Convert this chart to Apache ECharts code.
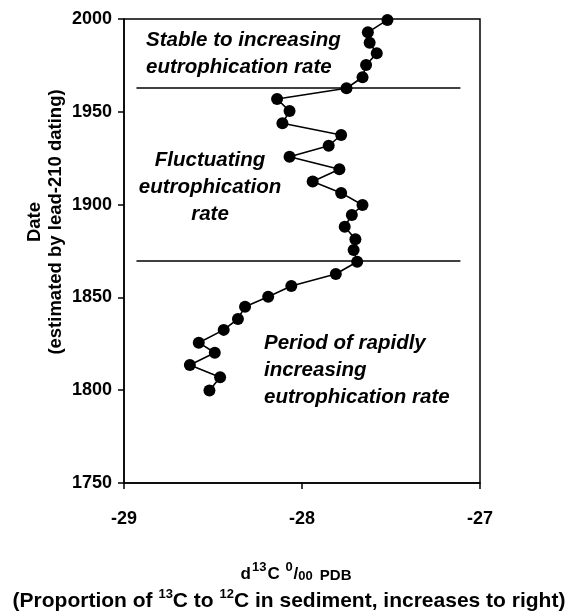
<!DOCTYPE html>
<html>
<head>
<meta charset="utf-8">
<script src="https://cdn.jsdelivr.net/npm/echarts@6/dist/echarts.min.js"></script>
<style>html,body{margin:0;padding:0;background:#fff;}#c{width:575px;height:613px;}</style>
</head>
<body>
<div id="c"></div>
<script>
// ---- data ----
const years = [1999.5, 1992.8, 1987.2, 1981.5, 1975.2, 1968.6, 1962.7, 1956.9, 1950.4, 1943.8, 1937.5, 1931.7, 1925.8, 1919.0, 1912.5, 1906.3, 1899.8, 1894.4, 1888.1, 1881.3, 1875.5, 1869.2, 1862.6, 1856.1, 1850.4, 1845.0, 1838.4, 1832.5, 1825.6, 1820.2, 1813.6, 1807.0, 1799.8];
const d13C = [-27.52, -27.63, -27.62, -27.58, -27.64, -27.66, -27.75, -28.14, -28.07, -28.11, -27.78, -27.85, -28.07, -27.79, -27.94, -27.78, -27.66, -27.72, -27.76, -27.70, -27.71, -27.69, -27.81, -28.06, -28.19, -28.32, -28.36, -28.44, -28.58, -28.49, -28.63, -28.46, -28.52];
const boundaryYears = [1963, 1869.5];
const boundaryXRange = [-28.93, -27.11];
const yTickLabels = [1750, 1800, 1850, 1900, 1950, 2000];
const xTickLabels = [-29, -28, -27];
const annotStable = ['Stable to increasing', 'eutrophication rate'];
const annotFluct = ['Fluctuating', 'eutrophication', 'rate'];
const annotRapid = ['Period of rapidly', 'increasing', 'eutrophication rate'];

const FONT = '"Liberation Sans", Arial, sans-serif';
const chart = echarts.init(document.getElementById('c'));
const pts = d13C.map((v, i) => [v, years[i]]);
const markLines = boundaryYears.map(y => [{coord: [boundaryXRange[0], y]}, {coord: [boundaryXRange[1], y]}]);

const annStyle = {fill: '#000', font: 'italic bold 20.5px ' + FONT, lineHeight: 27};

chart.setOption({
  animation: false,
  grid: {left: 124, right: 95, top: 19, bottom: 130, show: true, borderColor: '#000', borderWidth: 1.5, backgroundColor: 'transparent'},
  xAxis: {
    type: 'value', min: -29, max: -27, interval: 1,
    axisLine: {show: true, lineStyle: {color: '#000', width: 1.5}},
    axisTick: {show: true, length: 6, lineStyle: {color: '#000', width: 1.5}},
    splitLine: {show: false},
    axisLabel: {margin: 27, color: '#000', fontFamily: FONT, fontWeight: 'bold', fontSize: 18,
      formatter: v => xTickLabels.includes(v) ? String(v) : ''}
  },
  yAxis: {
    type: 'value', min: 1750, max: 2000, interval: 50,
    axisLine: {show: true, lineStyle: {color: '#000', width: 1.5}},
    axisTick: {show: true, length: 6, lineStyle: {color: '#000', width: 1.5}},
    splitLine: {show: false},
    axisLabel: {margin: 12, color: '#000', fontFamily: FONT, fontWeight: 'bold', fontSize: 18,
      formatter: v => yTickLabels.includes(v) ? String(v) : ''}
  },
  series: [{
    type: 'line', data: pts, symbol: 'circle', symbolSize: 12,
    lineStyle: {color: '#000', width: 1.6}, itemStyle: {color: '#000'},
    markLine: {silent: true, symbol: 'none', label: {show: false},
      lineStyle: {color: '#000', width: 1.6, type: 'solid'}, data: markLines}
  }],
  graphic: [
    {type: 'text', x: 146, y: 54, style: Object.assign({}, annStyle, {text: annotStable.join('\n'), textAlign: 'left', textVerticalAlign: 'middle'}), z: 10},
    {type: 'text', x: 210, y: 187, style: Object.assign({}, annStyle, {text: annotFluct.join('\n'), textAlign: 'center', textVerticalAlign: 'middle'}), z: 10},
    {type: 'text', x: 264, y: 370, style: Object.assign({}, annStyle, {text: annotRapid.join('\n'), textAlign: 'left', textVerticalAlign: 'middle'}), z: 10},
    {type: 'text', x: 45, y: 222, rotation: Math.PI / 2,
      style: {text: 'Date\n(estimated by lead-210 dating)', fill: '#000', font: 'bold 18.5px ' + FONT, lineHeight: 21, textAlign: 'center', textVerticalAlign: 'middle'}},
    {type: 'text', x: 296, y: 572,
      style: {text: '{m|d}{sup|13}{m|C }{sup|0}{m|/}{sub|00}{s|PDB}', textAlign: 'center', textVerticalAlign: 'middle',
        rich: {
          m: {fontFamily: FONT, fontWeight: 'bold', fontSize: 17, lineHeight: 22, fill: '#000', verticalAlign: 'bottom'},
          sup: {fontFamily: FONT, fontWeight: 'bold', fontSize: 13, lineHeight: 14, fill: '#000', verticalAlign: 'top', padding: [0, 1, 0, 1]},
          sub: {fontFamily: FONT, fontWeight: 'bold', fontSize: 13, lineHeight: 14, fill: '#000', verticalAlign: 'bottom'},
          s: {fontFamily: FONT, fontWeight: 'bold', fontSize: 15, lineHeight: 18, fill: '#000', verticalAlign: 'bottom', padding: [0, 0, 0, 7]}
        }}},
    {type: 'text', x: 289, y: 600,
      style: {text: '{m|(Proportion of }{sup|13}{m|C to }{sup|12}{m|C in sediment, increases to right)}', textAlign: 'center', textVerticalAlign: 'middle',
        rich: {
          m: {fontFamily: FONT, fontWeight: 'bold', fontSize: 21, lineHeight: 24, fill: '#000', verticalAlign: 'bottom'},
          sup: {fontFamily: FONT, fontWeight: 'bold', fontSize: 13, lineHeight: 16, fill: '#000', verticalAlign: 'top'}
        }}}
  ]
});
</script>
</body>
</html>
